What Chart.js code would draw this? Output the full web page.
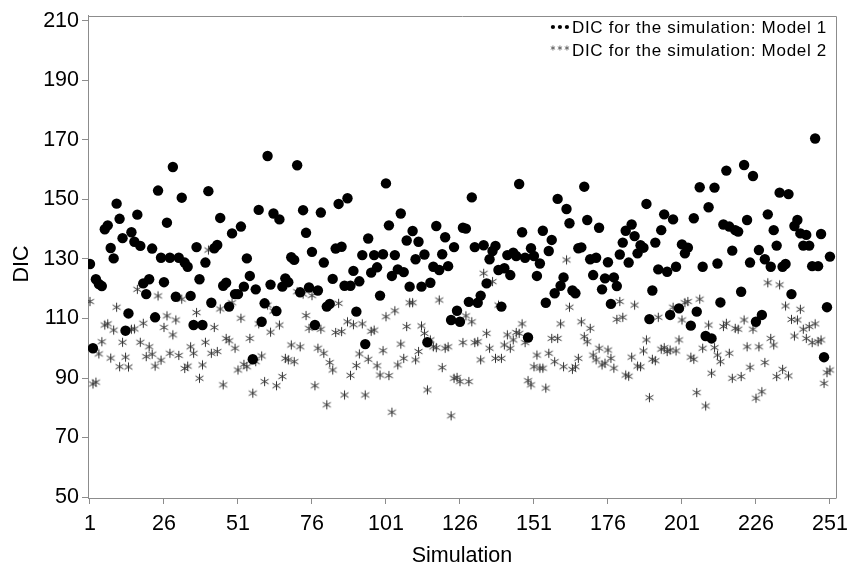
<!DOCTYPE html>
<html><head><meta charset="utf-8">
<script src="https://cdn.jsdelivr.net/npm/chart.js@4.4.1/dist/chart.umd.min.js"></script>
<style>html,body{margin:0;padding:0;background:#fff}#wrap{width:855px;height:568px}</style>
</head><body><div id="wrap"><canvas id="c" width="855" height="568"></canvas></div>
<script>
const xTickLabels = [1, 26, 51, 76, 101, 126, 151, 176, 201, 226, 251];
const yTickLabels = [50, 70, 90, 110, 130, 150, 170, 190, 210];
const seriesNames = ['DIC for the simulation: Model 1', 'DIC for the simulation: Model 2'];
const xTitle = 'Simulation';
const yTitle = 'DIC';

const model1 = [
128.3,100,123.2,121.6,120.9,140,141.3,133.7,130.2,148.6,
143.5,137,105.9,111.7,139,135.8,144.9,134.4,121.8,118.2,
123.2,133.5,110.4,153,130.4,122.2,142.2,130.4,160.9,117.3,
130.4,150.6,128.8,127.4,117.6,107.8,134,123.2,107.8,128.8,
152.8,115.3,133.6,134.7,143.8,121,122,114,138.6,118.2,
118.2,140.9,120.7,130.2,124.3,96.3,119.8,146.5,108.9,115.1,
164.6,121.4,145.3,112.5,143.3,120.7,123.5,122.2,130.6,129.7,
161.5,118.8,146.4,138.8,120.4,132.4,107.8,119.4,145.6,128.8,
114,114.9,123.3,133.5,148.5,134.1,121,150.4,121,126,
112.3,122.5,131.3,101.4,136.9,125.4,131.3,127.2,117.7,131.6,
155.4,141.3,124.3,131.3,126.5,145.3,125.6,136.2,120.7,139.4,
129.9,135.8,120.7,131.5,102,122,127.4,141.1,126.3,131.6,
137.3,127.6,109.5,134,112.6,108.9,140.5,140.2,115.6,150.7,
134,115.3,117.7,134.6,121.8,129.9,132.7,134.4,126.3,114,
126.9,131.3,124.6,132.1,131,155.2,139,130.4,103.6,133.6,
131,124.3,128.5,139.5,115.3,132.7,136.4,118.5,150.2,121,
123.8,146.8,142,119.4,118.5,133.6,133.9,154.3,143.1,129.9,
124.6,130.4,140.5,119.8,123.5,128.9,114.9,123.8,120.9,131.5,
135.5,139.5,128.8,141.6,137.7,131.9,134.6,133.8,148.5,109.8,
119.4,135.5,126.5,139.7,145,125.7,111.2,143.3,127.4,113.4,
134.9,131.9,133.8,107.6,143.7,112.3,154.1,127.4,104.1,147.4,
103.3,154,128.5,115.4,141.6,159.7,140.9,132.8,139.7,139.2,
119,161.6,143.1,128.8,157.9,108.9,133,111.2,129.9,145,
127.4,139.7,134.5,152.3,127.4,128.3,151.8,118.2,141.1,143.1,
138.6,134.5,138.1,134.5,127.6,170.5,127.6,138.4,97,113.8,
130.8
];

const model2 = [
115.7,88,88.6,98.1,102.2,107.8,108.2,96.7,106.1,113.8,
93.8,102,97,93.7,106.4,106.5,119.8,102,108.4,97.2,
100.5,98,94,117.6,96,107,110.9,98.3,104.5,109.5,
97.6,116.5,93.2,94,100.5,98.3,112,89.9,94.4,102,
133,98.3,107,98.9,113.2,87.7,103.3,102.5,115.3,100,
92.7,110.1,94.6,93.8,103.3,84.9,95.5,108.2,97.4,88.8,
114.5,105.4,112.5,87.4,107.8,90.5,96.6,96.1,101.1,95.5,
119,100.5,118.2,111,106.7,117.7,87.4,100,106.4,98.3,
81,95.2,92.7,105.3,115.1,105.6,84.3,108.9,90.9,107.9,
94.2,98.1,108.2,84.3,96.3,105.7,106.1,94.1,91,99.2,
110.6,90.8,78.5,112.6,94.4,101.4,96.6,107.3,115.3,115.3,
96.1,98.9,107.5,105,86,102.8,100.5,100.2,116.2,93.5,
100,100.5,77.3,89.9,90.2,88.8,101.9,110.9,88.8,108.9,
101.9,102.2,96.1,125.2,105,100,122.4,96.6,114.5,96.6,
101.1,104.5,100,102.8,105.3,105,108.2,101.9,89.1,87.7,
93.8,97.7,93.3,93.3,86.6,98.3,103.3,95.5,103.3,108.2,
93.8,129.7,113.8,92.9,93.8,96.6,108.9,103.9,102.2,106.7,
97.7,96.1,100,94.4,95,99.4,96.6,93.3,109.7,115.7,
110.4,91,90.6,97,114.5,94,93.8,99.1,102.8,83.4,
96.3,95.8,110.4,99.7,100.2,98.9,99.4,113.8,99.1,102.8,
109.5,115.3,115.7,97,96.3,85.1,116.5,100,80.6,107.8,
91.6,100.2,97.7,95.5,107.3,108.4,98.3,89.9,106.7,106.4,
90.5,109.5,100.5,93.6,106.4,83.2,100.5,85.4,95.2,122,
103.3,101.1,90.5,121.3,92.9,114.2,90.7,109.7,104.1,109.5,
113.1,106.4,103.3,107.3,101.9,108.2,102.2,102.8,88.2,91.8,
92.7
];

const FONT = "'Liberation Sans', Arial, sans-serif";
const AXIS_COLOR = '#8c8c8c';
const STAR_COLOR = '#333333';

function makeStar(r, color, lw) {
  const s = Math.ceil(r * 2 + 3);
  const c = document.createElement('canvas');
  c.width = s; c.height = s;
  const g = c.getContext('2d');
  g.strokeStyle = color; g.lineWidth = lw;
  const cx = s / 2, cy = s / 2;
  g.beginPath();
  for (const a of [90, 30, 150]) {
    const t = a * Math.PI / 180;
    g.moveTo(cx + r * Math.cos(t), cy - r * Math.sin(t));
    g.lineTo(cx - r * Math.cos(t), cy + r * Math.sin(t));
  }
  g.stroke();
  return c;
}
const starImg = makeStar(4.6, STAR_COLOR, 1);

const toPoints = arr => arr.map((v, i) => ({ x: i + 1, y: v }));

const framePlugin = {
  id: 'frame',
  afterDraw(chart) {
    const { ctx, chartArea: a } = chart;
    ctx.save();
    ctx.strokeStyle = AXIS_COLOR; ctx.lineWidth = 1;
    ctx.beginPath();
    ctx.moveTo(Math.round(a.left) + 0.5, Math.round(a.top) + 0.5);
    ctx.lineTo(Math.round(a.right) + 0.5, Math.round(a.top) + 0.5);
    ctx.lineTo(Math.round(a.right) + 0.5, Math.round(a.bottom) + 0.5);
    ctx.stroke();
    ctx.fillStyle = '#000';
    ctx.font = '21.5px ' + FONT;
    ctx.textAlign = 'center';
    ctx.textBaseline = 'middle';
    ctx.translate(22, 264);
    ctx.rotate(-Math.PI / 2);
    ctx.fillText(yTitle, 0, 0);
    ctx.restore();
  }
};

const legendPlugin = {
  id: 'cornerLegend',
  afterDraw(chart) {
    const { ctx } = chart;
    ctx.save();
    ctx.font = '17px ' + FONT;
    if ('letterSpacing' in ctx) ctx.letterSpacing = '0.7px';
    ctx.fillStyle = '#000';
    ctx.textBaseline = 'middle';
    ctx.textAlign = 'left';
    const rightX = 827;
    const rows = [28, 51];
    seriesNames.forEach((name, k) => {
      const w = ctx.measureText(name).width;
      const x0 = rightX - w;
      const y = rows[k];
      ctx.fillStyle = '#000';
      ctx.fillText(name, x0, y);
      for (let j = 0; j < 3; j++) {
        const sx = x0 - 5 - (2 - j) * 7;
        if (k === 0) {
          ctx.beginPath(); ctx.arc(sx, y - 1, 2.1, 0, Math.PI * 2); ctx.fill();
        } else {
          ctx.strokeStyle = '#555'; ctx.lineWidth = 0.8;
          ctx.beginPath();
          for (const a of [90, 30, 150]) {
            const t = a * Math.PI / 180, r = 2.5;
            ctx.moveTo(sx + r * Math.cos(t), y - 3 - r * Math.sin(t));
            ctx.lineTo(sx - r * Math.cos(t), y - 3 + r * Math.sin(t));
          }
          ctx.stroke();
        }
      }
    });
    ctx.restore();
  }
};

new Chart(document.getElementById('c'), {
  type: 'scatter',
  data: {
    datasets: [
      { label: seriesNames[0], data: toPoints(model1), pointStyle: 'circle', pointRadius: 5.2, pointHoverRadius: 5.2,
        backgroundColor: '#000', borderColor: '#000', borderWidth: 0 },
      { label: seriesNames[1], data: toPoints(model2), pointStyle: starImg, pointRadius: 4.6, pointHoverRadius: 4.6,
        backgroundColor: STAR_COLOR, borderColor: STAR_COLOR }
    ]
  },
  options: {
    responsive: false, animation: false, devicePixelRatio: 1,
    layout: { padding: { top: 14, right: 16, left: 0, bottom: 0 } },
    plugins: { legend: { display: false }, tooltip: { enabled: false } },
    scales: {
      x: {
        type: 'linear', min: 0.33, max: 253,
        afterBuildTicks: s => { s.ticks = xTickLabels.map(v => ({ value: v })); },
        afterFit: s => { s.height = 70; },
        ticks: { autoSkip: false, maxRotation: 0, padding: 7, color: '#000', font: { family: FONT, size: 21.5 } },
        grid: { drawOnChartArea: false, drawTicks: true, tickLength: 6, color: AXIS_COLOR },
        border: { display: true, color: AXIS_COLOR, width: 1 },
        title: { display: true, text: xTitle, color: '#000', font: { family: FONT, size: 21.5 }, padding: { top: 0, bottom: -1 } }
      },
      y: {
        type: 'linear', min: 49.67, max: 211.7,
        afterBuildTicks: s => { s.ticks = yTickLabels.map(v => ({ value: v })); },
        afterFit: s => { s.width = 88; },
        ticks: { autoSkip: false, padding: 3, color: '#000', font: { family: FONT, size: 21.5 } },
        grid: { drawOnChartArea: false, drawTicks: true, tickLength: 6, color: AXIS_COLOR },
        border: { display: true, color: AXIS_COLOR, width: 1 },
        title: { display: false }
      }
    }
  },
  plugins: [framePlugin, legendPlugin]
});
</script>
</body></html>
